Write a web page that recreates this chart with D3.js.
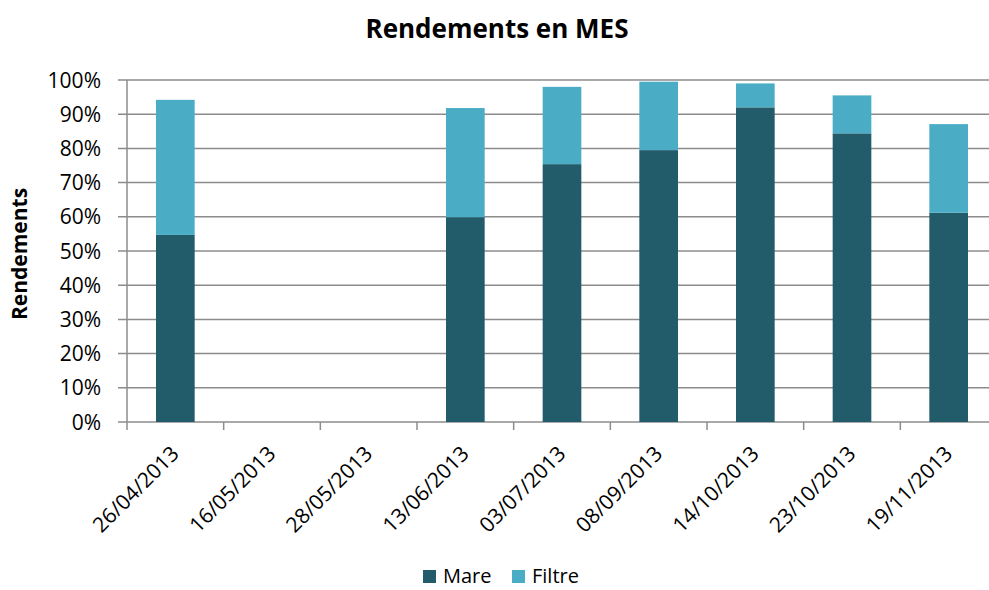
<!DOCTYPE html>
<html><head><meta charset="utf-8">
<script src="https://cdn.jsdelivr.net/npm/d3@7"></script>
<style>body{margin:0;background:#fff;} svg{display:block;font-family:"Open Sans",sans-serif;}</style>
</head><body><svg id="c" width="989" height="590"></svg>
<script>
const categories = ["26/04/2013","16/05/2013","28/05/2013","13/06/2013","03/07/2013","08/09/2013","14/10/2013","23/10/2013","19/11/2013"];
const mare   = [0.547, null, null, 0.599, 0.754, 0.795, 0.920, 0.844, 0.612];
const filtre = [0.395, null, null, 0.319, 0.226, 0.200, 0.070, 0.111, 0.259];
const seriesNames = ["Mare","Filtre"];
const colors = ["#225B6A","#4BACC6"];
const yTicks = [0,0.1,0.2,0.3,0.4,0.5,0.6,0.7,0.8,0.9,1.0];

const svg = d3.select("#c");
const L=127, R=997, T=80, B=422;
const x = d3.scaleBand().domain(categories).range([L,R]).paddingInner(0.6).paddingOuter(0.3);
const xb = d3.scaleBand().domain(categories).range([L,R]);
const y = d3.scaleLinear().domain([0,1]).range([B,T]);

// gridlines
svg.append("g").selectAll("line").data(yTicks).join("line")
  .attr("x1",118).attr("x2",R).attr("y1",d=>y(d)).attr("y2",d=>y(d))
  .attr("stroke","#8c8c8c").attr("stroke-width",1.5);
// y axis line
svg.append("line").attr("x1",L).attr("x2",L).attr("y1",T).attr("y2",B)
  .attr("stroke","#8c8c8c").attr("stroke-width",1.5);
// x tick marks
const tickX = categories.map(c=>xb(c)).concat([R]);
svg.append("g").selectAll("line").data(tickX).join("line")
  .attr("x1",d=>d).attr("x2",d=>d).attr("y1",B).attr("y2",B+8)
  .attr("stroke","#8c8c8c").attr("stroke-width",1.5);

// y labels
svg.append("g").selectAll("text").data(yTicks).join("text")
  .attr("x",101).attr("y",d=>y(d)).attr("dy","0.36em").attr("text-anchor","end")
  .attr("font-size",21).attr("fill","#000").text(d=>Math.round(d*100)+"%");

// bars
const stacks = categories.map((c,i)=>({c, m:mare[i], f:filtre[i]}));
const g = svg.append("g");
stacks.forEach(s=>{
  if(s.m==null) return;
  g.append("rect").attr("x",x(s.c)).attr("width",x.bandwidth())
    .attr("y",y(s.m)).attr("height",y(0)-y(s.m)).attr("fill",colors[0]);
  g.append("rect").attr("x",x(s.c)).attr("width",x.bandwidth())
    .attr("y",y(s.m+s.f)).attr("height",y(s.m)-y(s.m+s.f)).attr("fill",colors[1]);
});

// x labels
svg.append("g").selectAll("text").data(categories).join("text")
  .attr("transform",d=>`translate(${xb(d)+xb.bandwidth()/2+5},${B+33}) rotate(-45)`)
  .attr("text-anchor","end")
  .attr("font-size",21).attr("fill","#000").text(d=>d);

// title
svg.append("text").attr("x",497).attr("y",38).attr("text-anchor","middle")
  .attr("font-size",26).attr("font-weight","bold").attr("fill","#000").text("Rendements en MES");
// y title
svg.append("text").attr("transform","translate(27,254) rotate(-90)").attr("text-anchor","middle")
  .attr("font-size",21).attr("font-weight","bold").attr("fill","#000").text("Rendements");

// legend
const leg = svg.append("g");
const lx=[423,512];
seriesNames.forEach((n,i)=>{
  leg.append("rect").attr("x",lx[i]).attr("y",570).attr("width",13).attr("height",13).attr("fill",colors[i]);
  leg.append("text").attr("x",lx[i]+20).attr("y",583).attr("font-size",20).attr("fill","#000").text(n);
});
</script></body></html>
